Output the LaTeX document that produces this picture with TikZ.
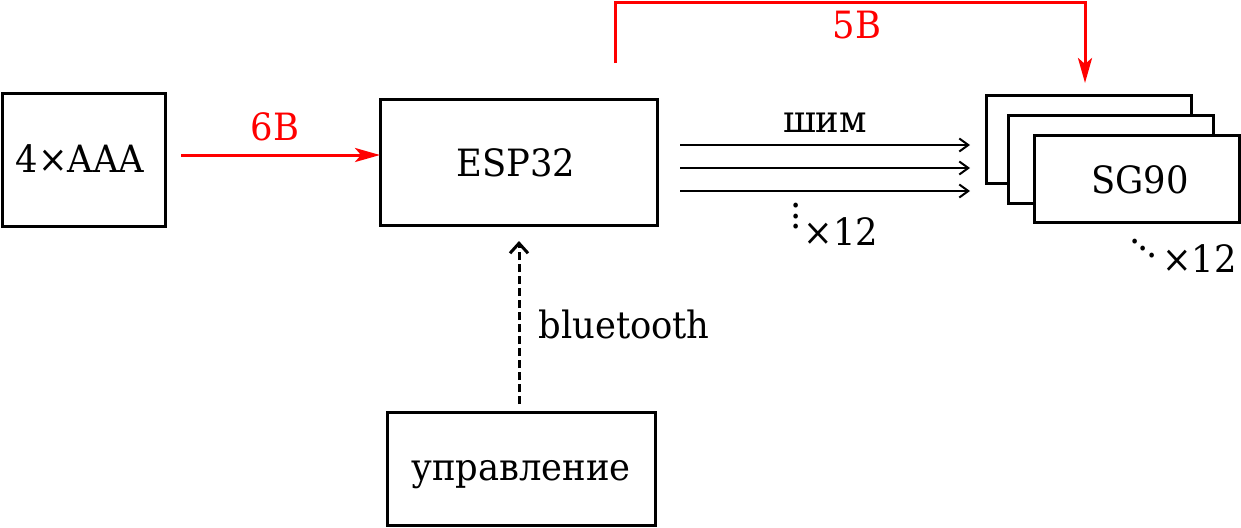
\documentclass[tikz,border=0pt]{standalone}
\usepackage{fontspec}
\setmainfont[FakeStretch=0.94]{DejaVu Serif}
\usetikzlibrary{arrows.meta}
\tikzset{
  txt/.style={font=\fontsize{18.8}{20}\selectfont},
  box/.style={draw, line width=1.5pt, inner sep=0pt, txt},
  lbl/.style={inner sep=0pt, txt},
  redline/.style={draw=red, line width=1.5pt, -{Stealth[length=12.5pt,width=7pt,inset=3pt]}},
  pwm/.style={line width=1pt, -{Straight Barb[length=4.5pt,width=6.5pt,line width=1pt]}},
  btarr/.style={line width=1.5pt, dash pattern=on 4pt off 2pt, -{Straight Barb[length=5pt,width=9pt,line width=1.5pt]}},
}
\newcommand{\mydd}{\raisebox{14.5pt}{.}\kern-1.2pt\raisebox{11pt}{.}\kern-1.2pt\raisebox{7.5pt}{.}}
\newcommand{\myvd}{\rlap{\raisebox{18.7pt}{.}}\rlap{\raisebox{13.5pt}{.}}\raisebox{8.3pt}{.}}
\begin{document}
\begin{tikzpicture}[x=0.5pt,y=-0.5pt]
\useasboundingbox (0,0) rectangle (1241,527);
\node[box, minimum width=81.5pt, minimum height=66.5pt] (aaa) at (83.5,159.5) {};
\node[lbl, anchor=base] (aaat) at (80,172) {4×AAA};
\node[box, minimum width=138.5pt, minimum height=63pt] (esp) at (518.5,162) {};
\node[lbl, anchor=base] (espt) at (516,176) {ESP32};
\node[box, minimum width=134pt, minimum height=56.5pt] (ctl) at (521,468.5) {};
\node[lbl, anchor=base] (ctlt) at (521,480) {управление};
\node[box, minimum width=102.5pt, minimum height=44pt, fill=white] (sgA) at (1088.5,139) {};
\node[box, minimum width=102.5pt, minimum height=44pt, fill=white] (sgB) at (1110.5,159) {};
\node[box, minimum width=102.5pt, minimum height=43.5pt, fill=white] (sgC) at (1136.5,178.5) {};
\node[lbl, anchor=base] (sgt) at (1140,193) {SG90};
% 6V
\coordinate (vs) at (181,155);
\coordinate (ve) at (380,155);
\draw[redline] (vs) -- (ve);
\node[lbl, red, anchor=base] (v6) at (275,140) {6В};
% 5V
\coordinate (fa) at (615,63);
\coordinate (fb) at (615,2);
\coordinate (fc) at (1085,2);
\coordinate (fd) at (1085,83);
\draw[redline] (fa) -- (fb) -- (fc) -- (fd);
\node[lbl, red, anchor=base] (v5) at (857,38) {5В};
% PWM
\foreach \i/\y in {1/145,2/168,3/191}{
  \coordinate (ps\i) at (680,\y);
  \coordinate (pe\i) at (970,\y);
  \draw[pwm] (ps\i) -- (pe\i);
}
\node[lbl, anchor=base] (pwm) at (825,132) {шим};
\node[lbl, anchor=base west] (n12a) at (790,245) {\myvd\kern1pt×12};
\node[lbl, anchor=base east] (n12b) at (1237,272) {\mydd\kern2pt×12};
% bluetooth
\coordinate (bs) at (519,404);
\coordinate (be) at (519,241);
\draw[btarr] (bs) -- (be);
\node[lbl, anchor=base west] (bt) at (538,338) {bluetooth};
\end{tikzpicture}
\end{document}
